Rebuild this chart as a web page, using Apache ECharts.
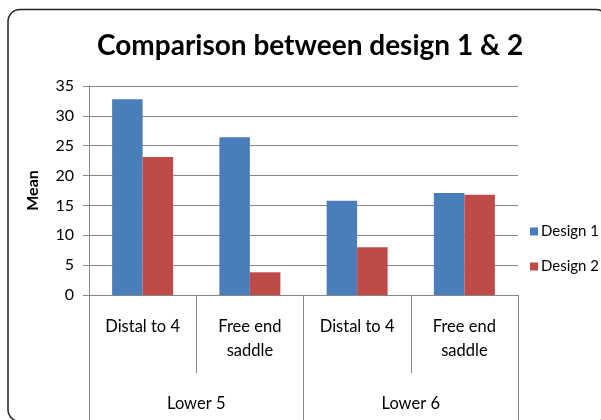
<!DOCTYPE html>
<html>
<head>
<meta charset="utf-8">
<script src="https://cdn.jsdelivr.net/npm/echarts@6/dist/echarts.min.js"></script>
<style>
  html, body { margin: 0; padding: 0; background: #fff; }
  #chart { width: 601px; height: 420px; }
</style>
</head>
<body>
<div id="chart"></div>
<script>
// Sub-groups (inner axis) and groups (outer axis)
const subCategories = ['Distal to 4', 'Free end\nsaddle', 'Distal to 4', 'Free end\nsaddle'];
const groups = ['Lower 5', 'Lower 6'];

// Mean values per design
const design1 = [32.8, 26.4, 15.8, 17.1];
const design2 = [23.1, 3.8, 8.0, 16.8];

// Value axis range
const yMin = 0;
const yMax = 35;
const yStep = 5;

const FONT = 'Lato';
const GRAY = '#868686';

const chart = echarts.init(document.getElementById('chart'), null, { renderer: 'canvas' });

chart.setOption({
  animation: false,
  backgroundColor: '#fff',
  textStyle: { fontFamily: FONT },
  title: {
    text: 'Comparison between design 1 & 2',
    left: 92,
    top: 27,
    textStyle: { fontFamily: FONT, fontSize: 28, fontWeight: 'bold', color: '#000' }
  },
  graphic: [{
    type: 'rect',
    shape: { x: 8, y: 9.5, width: 600, height: 412, r: 12 },
    style: { fill: 'none', stroke: '#222', lineWidth: 1.5 },
    silent: true,
    z: 100
  }],
  legend: {
    orient: 'vertical',
    left: 525,
    top: 219,
    itemWidth: 8,
    itemHeight: 8,
    itemGap: 20,
    icon: 'rect',
    textStyle: { fontFamily: FONT, fontSize: 15, color: '#000', padding: [0, 0, 0, -2] },
    data: ['Design 1', 'Design 2']
  },
  grid: { left: 89, right: 83, top: 86, bottom: 125, containLabel: false },
  xAxis: [
    {
      type: 'category',
      data: subCategories,
      position: 'bottom',
      axisLine: { show: true, lineStyle: { color: GRAY, width: 1 } },
      axisTick: { show: true, interval: 0, length: 78, lineStyle: { color: GRAY, width: 1 } },
      axisLabel: {
        interval: 0,
        margin: 20,
        fontFamily: FONT,
        fontSize: 16.5,
        color: '#000',
        lineHeight: 24
      }
    },
    {
      type: 'category',
      data: groups,
      position: 'bottom',
      axisLine: { show: false },
      axisTick: { show: true, interval: 0, length: 125, lineStyle: { color: GRAY, width: 1 } },
      axisLabel: {
        interval: 0,
        margin: 100,
        fontFamily: FONT,
        fontSize: 16.5,
        color: '#000'
      }
    }
  ],
  yAxis: {
    type: 'value',
    min: yMin,
    max: yMax,
    interval: yStep,
    name: 'Mean',
    nameLocation: 'middle',
    nameGap: 48,
    nameRotate: 90,
    nameTextStyle: { fontFamily: FONT, fontSize: 16, fontWeight: 'bold', color: '#000' },
    axisLine: { show: true, lineStyle: { color: GRAY, width: 1 } },
    axisTick: { show: true, length: 6, lineStyle: { color: GRAY, width: 1 } },
    axisLabel: { margin: 15, fontFamily: FONT, fontSize: 16, color: '#000' },
    splitLine: { show: true, lineStyle: { color: GRAY, width: 1 } }
  },
  series: [
    {
      name: 'Design 1',
      type: 'bar',
      xAxisIndex: 0,
      data: design1,
      barWidth: 30.5,
      barGap: '0%',
      itemStyle: { color: '#4A7EBB' }
    },
    {
      name: 'Design 2',
      type: 'bar',
      xAxisIndex: 0,
      data: design2,
      barWidth: 30.5,
      barGap: '0%',
      itemStyle: { color: '#BE4B48' }
    }
  ]
});
</script>
</body>
</html>
